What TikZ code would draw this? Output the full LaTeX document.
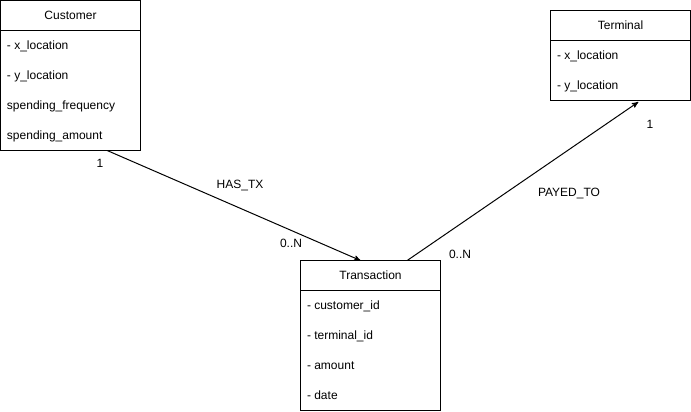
\documentclass[tikz,border=0pt]{standalone}
\usepackage{fontspec}
\setmainfont{Liberation Sans}
\usetikzlibrary{arrows}
\usetikzlibrary{positioning}

\begin{document}
\begin{tikzpicture}[->,>=stealth',x=0.75pt,y=-0.75pt,line width=0.75pt,font=\fontsize{9}{11}\selectfont]
 				 \tikzstyle{head}=[draw, rectangle, minimum width=105pt, minimum height=22.5pt, inner sep=0pt, outer sep=0pt]
 				 \tikzstyle{body}=[draw, rectangle, minimum width=105pt, inner sep=0pt, outer sep=0pt]
 				 \tikzstyle{attr}=[anchor=base west, inner sep=0pt]
 				 \tikzstyle{lbl}=[inner sep=0pt]
 				 \useasboundingbox (0,0) rectangle (691,411);
 					 \node[head] 		(Customer) at (70.5,15.5) {Customer};
 					 \node[body, minimum height=90pt, below=0pt of Customer] (CustomerBody) {};
 					 \node[head] 		(Terminal) at (620.5,25.5) {Terminal};
 					 \node[body, minimum height=45pt, below=0pt of Terminal] (TerminalBody) {};
 					 \node[head] 		(Transaction) at (370.5,275.5) {Transaction};
 					 \node[body, minimum height=90pt, below=0pt of Transaction] (TransactionBody) {};

 					 \foreach \t [count=\i] in {- x\_location, - y\_location, spending\_frequency, spending\_amount}
 					 		\node[attr] (cust-\i) at ([xshift=4.5pt,yshift={-22.5pt*\i+8.25pt}]Customer.south west) {\t};
 					 \foreach \t [count=\i] in {- x\_location, - y\_location}
 					 		\node[attr] (term-\i) at ([xshift=4.5pt,yshift={-22.5pt*\i+8.25pt}]Terminal.south west) {\t};
 					 \foreach \t [count=\i] in {- customer\_id, - terminal\_id, - amount, - date}
 					 		\node[attr] (tx-\i) at ([xshift=4.5pt,yshift={-22.5pt*\i+8.25pt}]Transaction.south west) {\t};

 					 \node[lbl] (has-one) at (100,163) {1};
 					 \node[lbl] (has-tx) at (240,185) {HAS\_TX};
 					 \node[lbl] (has-many) at (291,243) {0..N};
 					 \node[lbl] (payed-many) at (460,254) {0..N};
 					 \node[lbl] (payed-to) at (569,193) {PAYED\_TO};
 					 \node[lbl] (payed-one) at (650,124) {1};

 					  \path
 					  			([xshift=80pt]CustomerBody.south west) edge ([xshift=45pt]Transaction.north west)
 					 			([xshift=80pt]Transaction.north west) edge[shorten >=2pt] ([xshift=67.5pt]TerminalBody.south west);
				\end{tikzpicture}
\end{document}
